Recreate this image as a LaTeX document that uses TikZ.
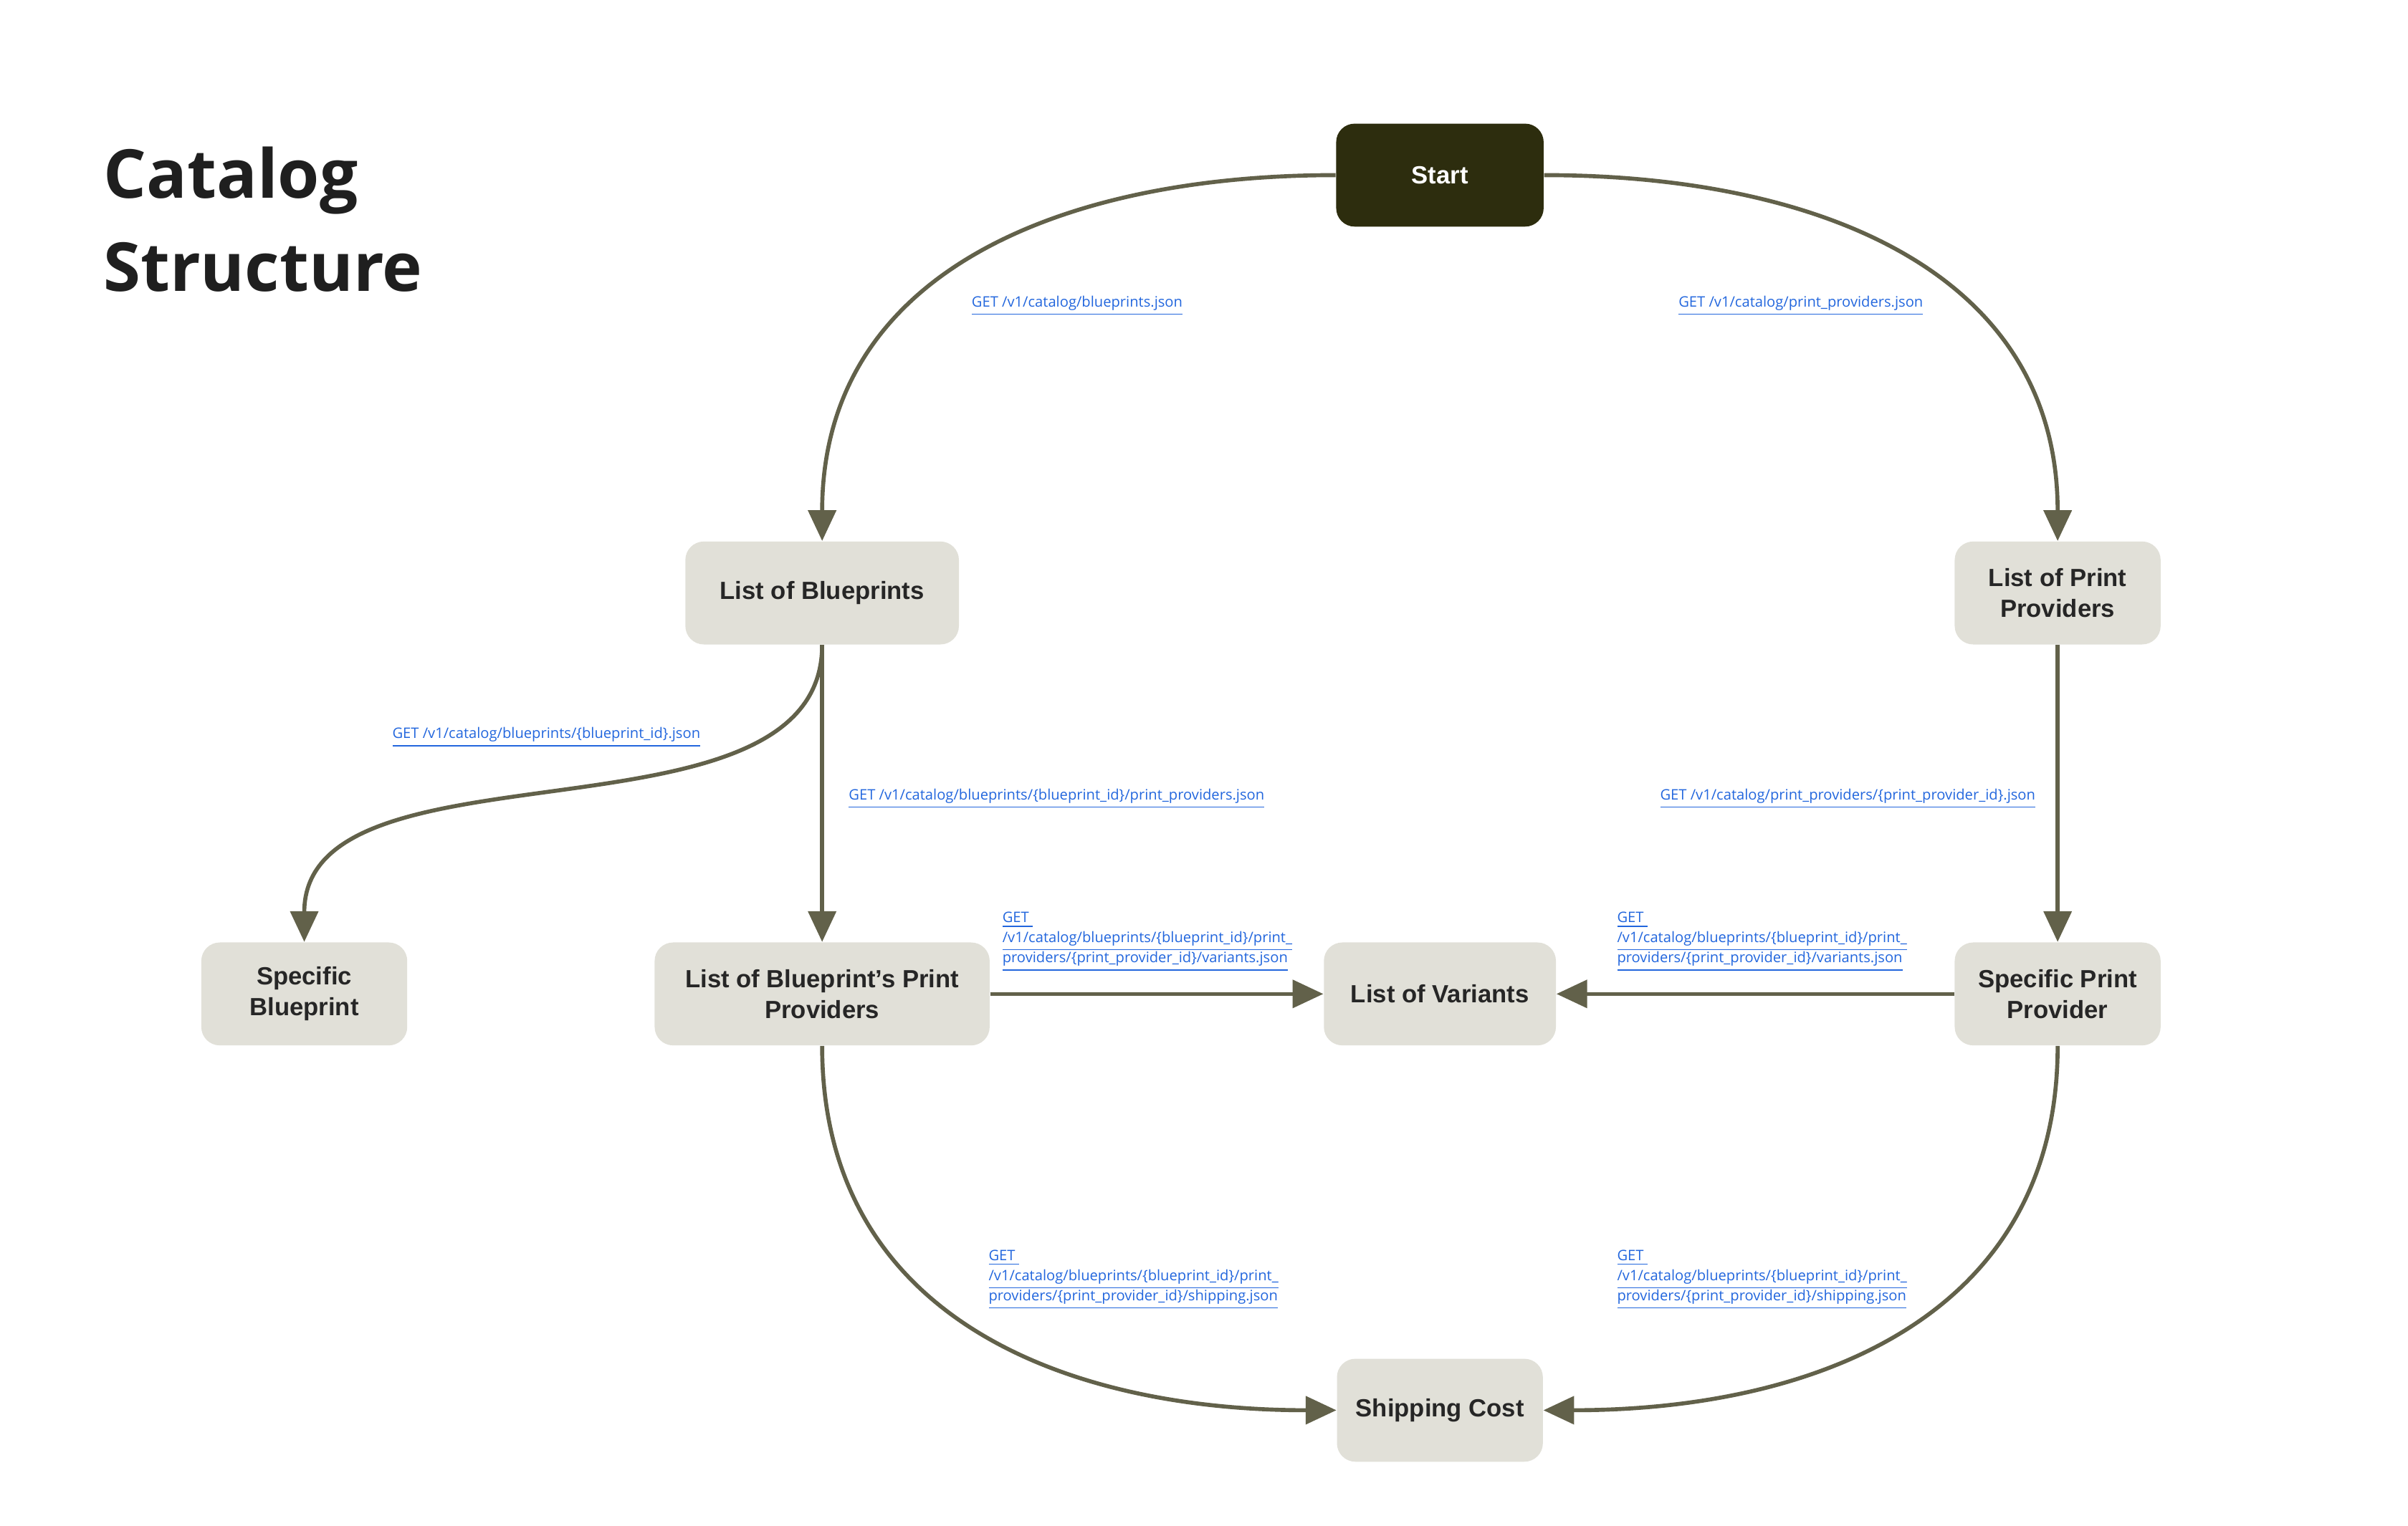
\documentclass[tikz,border=0pt]{standalone}
\usepackage{fontspec}
\setmainfont{Liberation Sans}
\newfontfamily\titlefont{Open Sans}
\usetikzlibrary{arrows.meta}
\definecolor{boxfill}{HTML}{E1E0D8}
\definecolor{startfill}{HTML}{2D2D0E}
\definecolor{edgecol}{HTML}{62614A}
\definecolor{linkcol}{HTML}{2266DD}
\newcommand{\lnk}[1]{\underline{#1}}
\begin{document}
\begin{tikzpicture}[x=0.2mm, y=-0.2mm]
  \tikzset{
    box/.style={rounded corners=2.4mm, fill=boxfill, minimum height=13.4mm, align=center,
      font=\fontsize{9.2}{11.5}\selectfont\bfseries, text=black!85},
    startbox/.style={box, fill=startfill, text=white},
    link/.style={anchor=west, align=left, inner sep=0pt, text=linkcol,
      font=\titlefont\fontsize{5.35}{7.5}\selectfont},
    flow/.style={draw=edgecol, line width=1.5pt, -{Triangle[length=4mm,width=3.6mm]}}
  }
  \useasboundingbox (0,0) rectangle (1567,993);

  \node[anchor=north west, align=left, inner sep=0pt, font=\titlefont\fontsize{25}{34.5}\selectfont\bfseries, text=black!88]
    (title) at (67,95) {Catalog\\Structure};

  \node[startbox, minimum width=27mm] (start) at (937,114) {Start};
  \node[box, minimum width=35.6mm] (blueprints) at (535,386) {List of Blueprints};
  \node[box, minimum width=26.8mm] (providers) at (1339,386) {List of Print\\Providers};
  \node[box, minimum width=26.8mm] (specbp) at (198,647) {Specific\\Blueprint};
  \node[box, minimum width=43.6mm] (bpproviders) at (535,647) {List of Blueprint's Print\\Providers};
  \node[box, minimum width=30.2mm] (variants) at (937,647) {List of Variants};
  \node[box, minimum width=26.8mm] (specpp) at (1339,647) {Specific Print\\Provider};
  \node[box, minimum width=26.8mm] (shipping) at (937,918) {Shipping Cost};

  \draw[flow] (start.west) to[out=180, in=90, looseness=1.1] (blueprints.north);
  \draw[flow] (start.east) to[out=0, in=90, looseness=1.1] (providers.north);
  \draw[flow] (blueprints.south) to[out=-90, in=90, looseness=0.9] (specbp.north);
  \draw[flow] (blueprints) -- (bpproviders);
  \draw[flow] (providers) -- (specpp);
  \draw[flow] (bpproviders) -- (variants);
  \draw[flow] (specpp) -- (variants);
  \draw[flow] (bpproviders.south) to[out=-90, in=180, looseness=1.1] (shipping.west);
  \draw[flow] (specpp.south) to[out=-90, in=0, looseness=1.1] (shipping.east);

  \node[link] (l1) at (632,199) {\lnk{GET /v1/catalog/blueprints.json}};
  \node[link] (l2) at (1092,199) {\lnk{GET /v1/catalog/print\_providers.json}};
  \node[link] (l3) at (255,480) {\lnk{GET /v1/catalog/blueprints/\{blueprint\_id\}.json}};
  \node[link] (l4) at (552,520) {\lnk{GET /v1/catalog/blueprints/\{blueprint\_id\}/print\_providers.json}};
  \node[link] (l5) at (1080,520) {\lnk{GET /v1/catalog/print\_providers/\{print\_provider\_id\}.json}};
  \node[link] (l6) at (652,613) {\lnk{GET }\\\lnk{/v1/catalog/blueprints/\{blueprint\_id\}/print\_}\\\lnk{providers/\{print\_provider\_id\}/variants.json}};
  \node[link] (l7) at (1052,613) {\lnk{GET }\\\lnk{/v1/catalog/blueprints/\{blueprint\_id\}/print\_}\\\lnk{providers/\{print\_provider\_id\}/variants.json}};
  \node[link] (l8) at (643,833) {\lnk{GET }\\\lnk{/v1/catalog/blueprints/\{blueprint\_id\}/print\_}\\\lnk{providers/\{print\_provider\_id\}/shipping.json}};
  \node[link] (l9) at (1052,833) {\lnk{GET }\\\lnk{/v1/catalog/blueprints/\{blueprint\_id\}/print\_}\\\lnk{providers/\{print\_provider\_id\}/shipping.json}};
\end{tikzpicture}
\end{document}
